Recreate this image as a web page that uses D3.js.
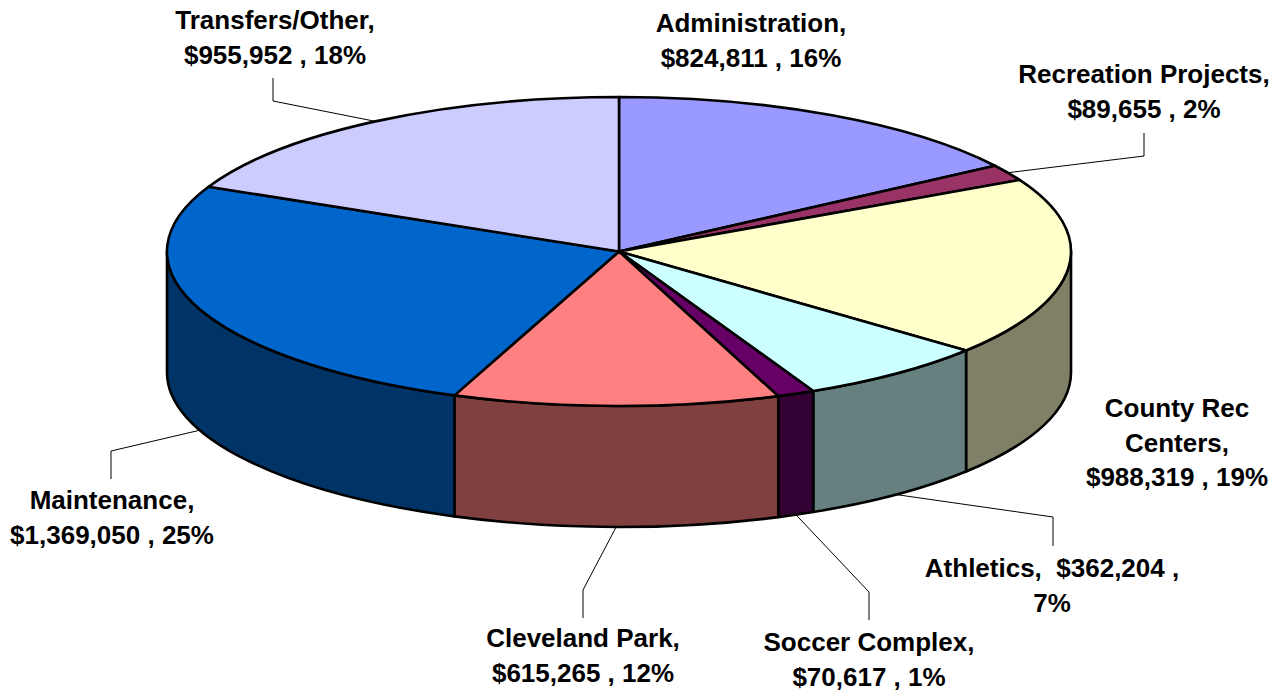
<!DOCTYPE html>
<html>
<head>
<meta charset="utf-8">
<script src="https://cdn.jsdelivr.net/npm/d3@7/dist/d3.min.js"></script>
<style>
  html, body { margin: 0; padding: 0; background: #fff; }
  svg { display: block; }
  text { font-family: "Liberation Sans", Arial, sans-serif; font-weight: bold; font-size: 26px; fill: #000; text-anchor: middle; }
</style>
</head>
<body>
<svg id="chart" width="1284" height="691"></svg>
<script>
// Budget categories, clockwise from twelve o'clock
const categories = ["Administration", "Recreation Projects", "County Rec Centers", "Athletics",
                    "Soccer Complex", "Cleveland Park", "Maintenance", "Transfers/Other"];
const amounts = [824811, 89655, 988319, 362204, 70617, 615265, 1369050, 955952];
const percents = [16, 2, 19, 7, 1, 12, 25, 18];
const topColors = ["#9999FF", "#993366", "#FFFFCC", "#CCFFFF", "#660066", "#FF8080", "#0066CC", "#CCCCFF"];
const wallColors = ["#4C4C80", "#4C1933", "#808066", "#668080", "#330033", "#804040", "#003366", "#666680"];

// Text placement and leader elbows for each category (null = no leader)
const labelCenters = [[751, 23], [1144, 74], [1177, 408], [1052, 568], [869, 642], [583, 638], [112, 500], [275, 20]];
const leaderElbows = [null, [[1144, 156], [1144, 133]], null, [[1053, 517], [1053, 546]],
                      [[869, 592], [869, 620]], [[583, 590], [583, 618]], [[111, 451], [111, 479]], [[273, 101], [273, 78]]];

const lineStep = 34.5;
const depth = 121;
const cx = 619, cy = 251.5, rx = 452, ry = 154.5;

const svg = d3.select("#chart");
const money = d3.format("$,d");

// Unit-circle coordinates to the tilted disc
const px = d3.scaleLinear().domain([-1, 1]).range([cx - rx, cx + rx]);
const py = d3.scaleLinear().domain([-1, 1]).range([cy - ry, cy + ry]);
const rim = (a, drop = 0) => [px(Math.sin(a)), py(-Math.cos(a)) + drop];

const slices = d3.pie().sort(null).value(d => d)(amounts);

// Side wall: only the part of a slice that lies on the front half of the disc
const wallLayer = svg.append("g");
slices.forEach((s, i) => {
  const a0 = Math.max(s.startAngle, Math.PI / 2);
  const a1 = Math.min(s.endAngle, Math.PI * 1.5);
  if (a1 <= a0) return;
  const [x0, y0] = rim(a0);
  const [x1, y1] = rim(a1);
  const d = `M${x0},${y0} A${rx},${ry} 0 0 1 ${x1},${y1} L${x1},${y1 + depth} A${rx},${ry} 0 0 0 ${x0},${y0 + depth} Z`;
  wallLayer.append("path").attr("d", d).attr("fill", wallColors[i])
    .attr("stroke", "#000").attr("stroke-width", 2.6).attr("stroke-linejoin", "round");
});

// Top face wedges
const topLayer = svg.append("g");
slices.forEach((s, i) => {
  const [x0, y0] = rim(s.startAngle);
  const [x1, y1] = rim(s.endAngle);
  const large = s.endAngle - s.startAngle > Math.PI ? 1 : 0;
  topLayer.append("path")
    .attr("d", `M${cx},${cy} L${x0},${y0} A${rx},${ry} 0 ${large} 1 ${x1},${y1} Z`)
    .attr("fill", topColors[i])
    .attr("stroke", "#000").attr("stroke-width", 2.6).attr("stroke-linejoin", "round");
});

// Leaders start at each slice's mid-angle on the visible rim
const lineGen = d3.line();
slices.forEach((s, i) => {
  if (!leaderElbows[i]) return;
  const mid = (s.startAngle + s.endAngle) / 2;
  const front = Math.cos(mid) < 0;
  const start = rim(mid, front ? depth : 0);
  svg.append("path")
    .attr("d", lineGen([start, ...leaderElbows[i]]))
    .attr("fill", "none").attr("stroke", "#000").attr("stroke-width", 1);
});

// Labels: name, then value and share, wrapped the way each one fits its spot
const labelText = i => {
  const name = categories[i];
  const value = `${money(amounts[i])} , ${percents[i]}%`;
  if (name === "Athletics") return [`${name},  ${money(amounts[i])} ,`, `${percents[i]}%`];
  if (name === "County Rec Centers") return ["County Rec", "Centers,", value];
  return [`${name},`, value];
};
categories.forEach((name, i) => {
  const [lx, ly] = labelCenters[i];
  const t = svg.append("text").style("white-space", "pre");
  labelText(i).forEach((l, k) => {
    t.append("tspan").attr("x", lx).attr("y", ly + 9 + k * lineStep).text(l);
  });
});
</script>
</body>
</html>
